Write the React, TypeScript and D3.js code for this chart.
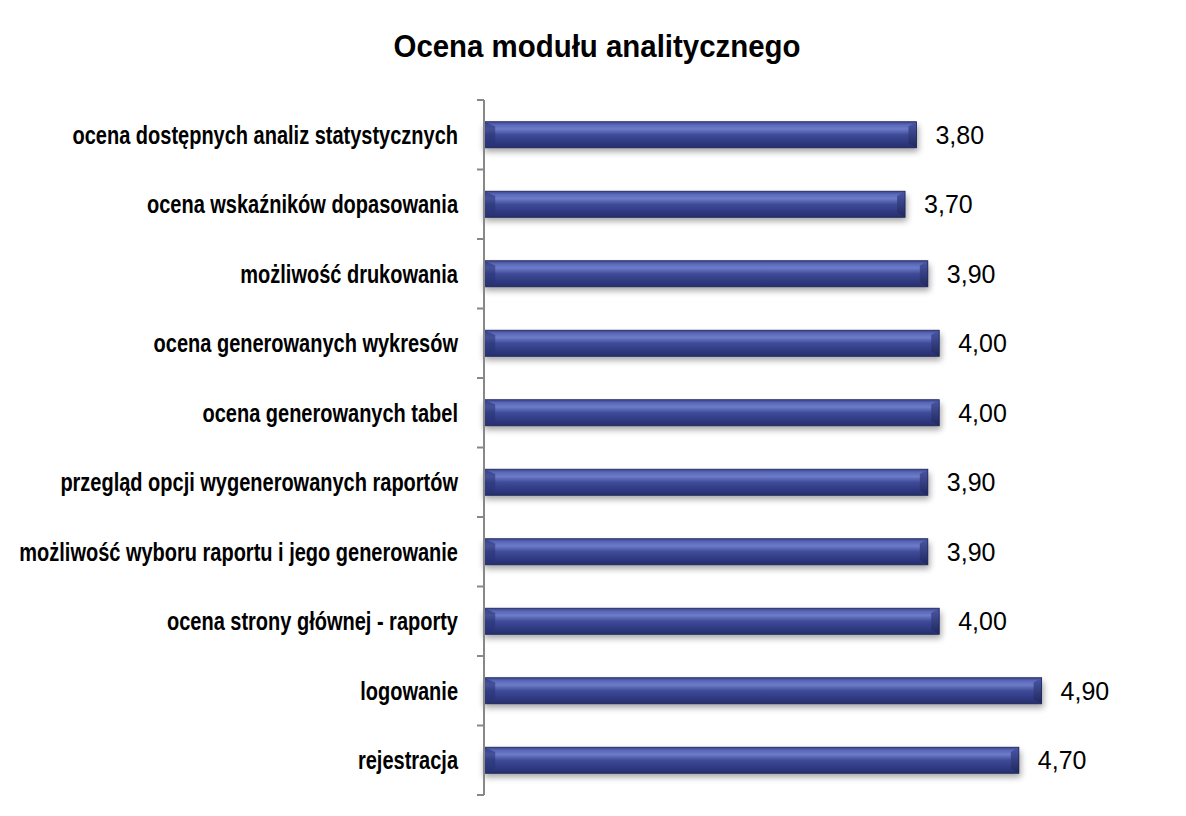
import React from "react";
import * as d3 from "d3";

const categories = [
  "ocena dostępnych analiz statystycznych",
  "ocena wskaźników dopasowania",
  "możliwość drukowania",
  "ocena generowanych wykresów",
  "ocena generowanych tabel",
  "przegląd opcji wygenerowanych raportów",
  "możliwość wyboru raportu i jego generowanie",
  "ocena strony głównej - raporty",
  "logowanie",
  "rejestracja",
];
const values = [3.8, 3.7, 3.9, 4.0, 4.0, 3.9, 3.9, 4.0, 4.9, 4.7];
const title = "Ocena modułu analitycznego";

const W = 1186;
const H = 816;

export default function App() {
  const x = d3.scaleLinear().domain([0, 6]).range([484, 484 + 6 * 113.8]);
  const y = d3
    .scaleBand<string>()
    .domain(categories)
    .range([100, 795])
    .paddingInner(0.625)
    .paddingOuter(0.3125);
  const step = y.step();
  const boundaries = d3.range(categories.length + 1).map((i) => 100 + i * step);
  const fmt = (v: number) => v.toFixed(2).replace(".", ",");
  const bh = y.bandwidth();
  const sx = 0.8;

  return (
    <svg
      width={W}
      height={H}
      style={{ position: "absolute", left: 0, top: 0, background: "#fff" }}
    >
      <defs>
        <linearGradient id="barGrad" x1="0" y1="0" x2="0" y2="1">
          <stop offset="0" stopColor="#3a4690" />
          <stop offset="0.12" stopColor="#5a68b8" />
          <stop offset="0.28" stopColor="#6d7cc8" />
          <stop offset="0.5" stopColor="#3f4b98" />
          <stop offset="0.8" stopColor="#2e3980" />
          <stop offset="1" stopColor="#262f6c" />
        </linearGradient>
        <linearGradient id="endGrad" x1="0" y1="0" x2="0" y2="1">
          <stop offset="0" stopColor="#4a57a6" />
          <stop offset="1" stopColor="#1f275c" />
        </linearGradient>
        <filter id="shadow" x="-5%" y="-50%" width="110%" height="200%">
          <feGaussianBlur stdDeviation="3" />
        </filter>
      </defs>

      <text
        x={597}
        y={57}
        textAnchor="middle"
        fontFamily="'Liberation Sans', Arial, sans-serif"
        fontWeight="bold"
        fontSize={32}
        textLength={407}
        lengthAdjust="spacingAndGlyphs"
        fill="#000"
      >
        {title}
      </text>

      {categories.map((c, i) => {
        const y0 = y(c)!;
        const x0 = x(0);
        const x1 = x(values[i]);
        const b = 8;
        return (
          <g key={c}>
            <rect
              x={x0}
              y={y0 + 4}
              width={x1 - x0 + 2}
              height={bh}
              fill="#000"
              opacity={0.35}
              filter="url(#shadow)"
            />
            <rect x={x0} y={y0} width={x1 - x0} height={bh} fill="url(#barGrad)" />
            <polygon
              points={`${x1 - b},${y0 + b * 0.6} ${x1},${y0} ${x1},${y0 + bh} ${x1 - b},${y0 + bh - b * 0.6}`}
              fill="url(#endGrad)"
            />
            <polygon
              points={`${x0},${y0} ${x0 + b * 1.4},${y0 + b * 0.6} ${x0 + b * 1.4},${y0 + bh - b * 0.6} ${x0},${y0 + bh}`}
              fill="#2a3476"
              opacity={0.6}
            />
            <rect x={x0} y={y0} width={x1 - x0} height={bh} fill="none" stroke="#1c2356" strokeWidth={0.8} />
            <text
              x={x1 + 19}
              y={y0 + bh / 2}
              dy="0.36em"
              fontFamily="'Liberation Sans', Arial, sans-serif"
              fontSize={25}
              fill="#000"
            >
              {fmt(values[i])}
            </text>
            <text
              transform={`translate(458,${y0 + bh / 2}) scale(${sx},1)`}
              dy="0.36em"
              textAnchor="end"
              fontFamily="'Liberation Sans', Arial, sans-serif"
              fontWeight="bold"
              fontSize={25}
              fill="#000"
            >
              {c}
            </text>
          </g>
        );
      })}

      <line x1={484} x2={484} y1={100} y2={795} stroke="#888" strokeWidth={2} />
      {boundaries.map((b, i) => (
        <line key={i} x1={477} x2={484} y1={b} y2={b} stroke="#888" strokeWidth={2} />
      ))}
    </svg>
  );
}
